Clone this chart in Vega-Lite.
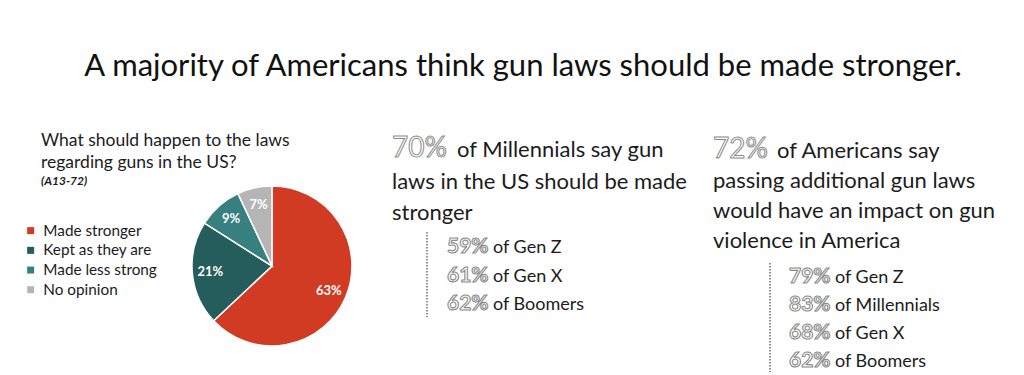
{
  "$schema": "https://vega.github.io/schema/vega-lite/v6.json",
  "background": "white",
  "padding": {"left": 23, "top": 50, "right": 0, "bottom": 0},
  "title": {
    "text": "A majority of Americans think gun laws should be made stronger.",
    "font": "Lato", "fontSize": 31, "fontWeight": "normal", "color": "#111111",
    "anchor": "middle", "offset": 49, "dx": 10
  },
  "config": {"view": {"stroke": null}, "font": "Lato"},
  "datasets": {
    "responses": [
      {"response": "Made stronger", "share": 0.63},
      {"response": "Kept as they are", "share": 0.21},
      {"response": "Made less strong", "share": 0.09},
      {"response": "No opinion", "share": 0.07}
    ],
    "millennial_claim": [
      {"line": 1, "text": "of Millennials say gun", "share": 0.70},
      {"line": 2, "text": "laws in the US should be made"},
      {"line": 3, "text": "stronger"}
    ],
    "millennial_claim_by_gen": [
      {"row": 1, "label": "of Gen Z", "share": 0.59},
      {"row": 2, "label": "of Gen X", "share": 0.61},
      {"row": 3, "label": "of Boomers", "share": 0.62}
    ],
    "impact_claim": [
      {"line": 1, "text": "of Americans say", "share": 0.72},
      {"line": 2, "text": "passing additional gun laws"},
      {"line": 3, "text": "would have an impact on gun"},
      {"line": 4, "text": "violence in America"}
    ],
    "impact_claim_by_gen": [
      {"row": 1, "label": "of Gen Z", "share": 0.79},
      {"row": 2, "label": "of Millennials", "share": 0.83},
      {"row": 3, "label": "of Gen X", "share": 0.68},
      {"row": 4, "label": "of Boomers", "share": 0.62}
    ]
  },
  "spacing": 16,
  "hconcat": [
    {
      "width": 160, "height": 160,
      "title": {
        "text": ["What should happen to the laws", "regarding guns in the US?"],
        "subtitle": "(A13-72)",
        "anchor": "start", "frame": "group", "dx": -151, "offset": -4,
        "font": "Lato", "fontSize": 17.5, "fontWeight": "normal", "lineHeight": 22, "color": "#1c1c1c",
        "subtitleFont": "Lato", "subtitleFontSize": 12, "subtitleFontStyle": "italic", "subtitleFontWeight": "bold",
        "subtitleColor": "#1c1c1c", "subtitlePadding": 5
      },
      "data": {"name": "responses"},
      "encoding": {
        "theta": {"field": "share", "type": "quantitative", "stack": true},
        "order": {"field": "share", "sort": "descending"},
        "color": {
          "field": "response", "type": "nominal",
          "scale": {
            "domain": ["Made stronger", "Kept as they are", "Made less strong", "No opinion"],
            "range": ["#d13a23", "#255c5c", "#37807f", "#b5b5b5"]
          },
          "legend": {
            "title": null, "orient": "none", "legendX": -169, "legendY": 37,
            "symbolType": "square", "symbolSize": 49, "symbolStrokeWidth": 0,
            "labelFont": "Lato", "labelFontSize": 15.3, "labelColor": "#1c1c1c",
            "rowPadding": 3.7, "labelOffset": 5, "padding": 0
          }
        }
      },
      "layer": [
        {"mark": {"type": "arc", "outerRadius": 80, "stroke": "white", "strokeWidth": 1.5}},
        {
          "mark": {"type": "text", "radius": 62, "font": "Lato", "fontSize": 13, "fontWeight": "bold"},
          "encoding": {
            "color": {"value": "white"},
            "text": {"field": "share", "type": "quantitative", "format": ".0%"}
          }
        }
      ]
    },
    {
      "width": 326, "height": 186,
      "encoding": {"x": {"datum": 0, "type": "quantitative", "scale": {"domain": [0, 1]}, "axis": null}},
      "layer": [
        {
          "data": {"name": "millennial_claim"},
          "transform": [{"filter": "datum.line == 1"}],
          "mark": {"type": "text", "align": "left", "baseline": "alphabetic", "xOffset": 21, "font": "Lato", "fontSize": 28, "fontWeight": "normal", "fill": "white", "stroke": "#8a8a8a", "strokeWidth": 1},
          "encoding": {
            "y": {"field": "line", "type": "quantitative", "scale": {"domain": [1.9206, 7.8254], "reverse": true, "zero": false, "nice": false}, "axis": null},
            "text": {"field": "share", "type": "quantitative", "format": ".0%"}
          }
        },
        {
          "data": {"name": "millennial_claim"},
          "transform": [{"filter": "datum.line == 1"}],
          "mark": {"type": "text", "align": "left", "baseline": "alphabetic", "xOffset": 86, "font": "Lato", "fontSize": 22, "color": "#1c1c1c"},
          "encoding": {
            "y": {"field": "line", "type": "quantitative", "scale": {"domain": [1.9206, 7.8254], "reverse": true, "zero": false, "nice": false}, "axis": null},
            "text": {"field": "text", "type": "nominal"}
          }
        },
        {
          "data": {"name": "millennial_claim"},
          "transform": [{"filter": "datum.line > 1"}],
          "mark": {"type": "text", "align": "left", "baseline": "alphabetic", "xOffset": 21, "font": "Lato", "fontSize": 22, "color": "#1c1c1c"},
          "encoding": {
            "y": {"field": "line", "type": "quantitative", "scale": {"domain": [1.9206, 7.8254], "reverse": true, "zero": false, "nice": false}, "axis": null},
            "text": {"field": "text", "type": "nominal"}
          }
        },
        {
          "data": {"name": "millennial_claim_by_gen"},
          "mark": {"type": "rule", "xOffset": 56, "yOffset": -21, "y2Offset": 7, "color": "#555555", "strokeWidth": 1.3, "strokeDash": [1.5, 1.5]},
          "encoding": {
            "y": {"aggregate": "min", "field": "row", "type": "quantitative", "scale": {"domain": [-1.3509, 5.175], "reverse": true, "zero": false, "nice": false}, "axis": null},
            "y2": {"aggregate": "max", "field": "row"}
          }
        },
        {
          "data": {"name": "millennial_claim_by_gen"},
          "mark": {"type": "text", "align": "left", "baseline": "alphabetic", "xOffset": 76, "font": "Lato", "fontSize": 21, "fontWeight": "bold", "fill": "white", "stroke": "#8a8a8a", "strokeWidth": 1.1},
          "encoding": {
            "y": {"field": "row", "type": "quantitative", "scale": {"domain": [-1.3509, 5.175], "reverse": true, "zero": false, "nice": false}, "axis": null},
            "text": {"field": "share", "type": "quantitative", "format": ".0%"}
          }
        },
        {
          "data": {"name": "millennial_claim_by_gen"},
          "mark": {"type": "text", "align": "left", "baseline": "alphabetic", "xOffset": 122, "font": "Lato", "fontSize": 18, "color": "#1c1c1c"},
          "encoding": {
            "y": {"field": "row", "type": "quantitative", "scale": {"domain": [-1.3509, 5.175], "reverse": true, "zero": false, "nice": false}, "axis": null},
            "text": {"field": "label", "type": "nominal"}
          }
        }
      ],
      "resolve": {"scale": {"y": "independent"}}
    },
    {
      "width": 290, "height": 186,
      "encoding": {"x": {"datum": 0, "type": "quantitative", "scale": {"domain": [0, 1]}, "axis": null}},
      "layer": [
        {
          "data": {"name": "impact_claim"},
          "transform": [{"filter": "datum.line == 1"}],
          "mark": {"type": "text", "align": "left", "baseline": "alphabetic", "font": "Lato", "fontSize": 28, "fontWeight": "normal", "fill": "white", "stroke": "#8a8a8a", "strokeWidth": 1},
          "encoding": {
            "y": {"field": "line", "type": "quantitative", "scale": {"domain": [1.9333, 8.1333], "reverse": true, "zero": false, "nice": false}, "axis": null},
            "text": {"field": "share", "type": "quantitative", "format": ".0%"}
          }
        },
        {
          "data": {"name": "impact_claim"},
          "transform": [{"filter": "datum.line == 1"}],
          "mark": {"type": "text", "align": "left", "baseline": "alphabetic", "xOffset": 64, "font": "Lato", "fontSize": 22, "color": "#1c1c1c"},
          "encoding": {
            "y": {"field": "line", "type": "quantitative", "scale": {"domain": [1.9333, 8.1333], "reverse": true, "zero": false, "nice": false}, "axis": null},
            "text": {"field": "text", "type": "nominal"}
          }
        },
        {
          "data": {"name": "impact_claim"},
          "transform": [{"filter": "datum.line > 1"}],
          "mark": {"type": "text", "align": "left", "baseline": "alphabetic", "font": "Lato", "fontSize": 22, "color": "#1c1c1c"},
          "encoding": {
            "y": {"field": "line", "type": "quantitative", "scale": {"domain": [1.9333, 8.1333], "reverse": true, "zero": false, "nice": false}, "axis": null},
            "text": {"field": "text", "type": "nominal"}
          }
        },
        {
          "data": {"name": "impact_claim_by_gen"},
          "mark": {"type": "rule", "xOffset": 57, "yOffset": -20, "y2Offset": 5, "color": "#555555", "strokeWidth": 1.3, "strokeDash": [1.5, 1.5]},
          "encoding": {
            "y": {"aggregate": "min", "field": "row", "type": "quantitative", "scale": {"domain": [-2.464, 4.179], "reverse": true, "zero": false, "nice": false}, "axis": null},
            "y2": {"aggregate": "max", "field": "row"}
          }
        },
        {
          "data": {"name": "impact_claim_by_gen"},
          "mark": {"type": "text", "align": "left", "baseline": "alphabetic", "xOffset": 76, "font": "Lato", "fontSize": 21, "fontWeight": "bold", "fill": "white", "stroke": "#8a8a8a", "strokeWidth": 1.1},
          "encoding": {
            "y": {"field": "row", "type": "quantitative", "scale": {"domain": [-2.464, 4.179], "reverse": true, "zero": false, "nice": false}, "axis": null},
            "text": {"field": "share", "type": "quantitative", "format": ".0%"}
          }
        },
        {
          "data": {"name": "impact_claim_by_gen"},
          "mark": {"type": "text", "align": "left", "baseline": "alphabetic", "xOffset": 122, "font": "Lato", "fontSize": 18, "color": "#1c1c1c"},
          "encoding": {
            "y": {"field": "row", "type": "quantitative", "scale": {"domain": [-2.464, 4.179], "reverse": true, "zero": false, "nice": false}, "axis": null},
            "text": {"field": "label", "type": "nominal"}
          }
        }
      ],
      "resolve": {"scale": {"y": "independent"}}
    }
  ]
}
